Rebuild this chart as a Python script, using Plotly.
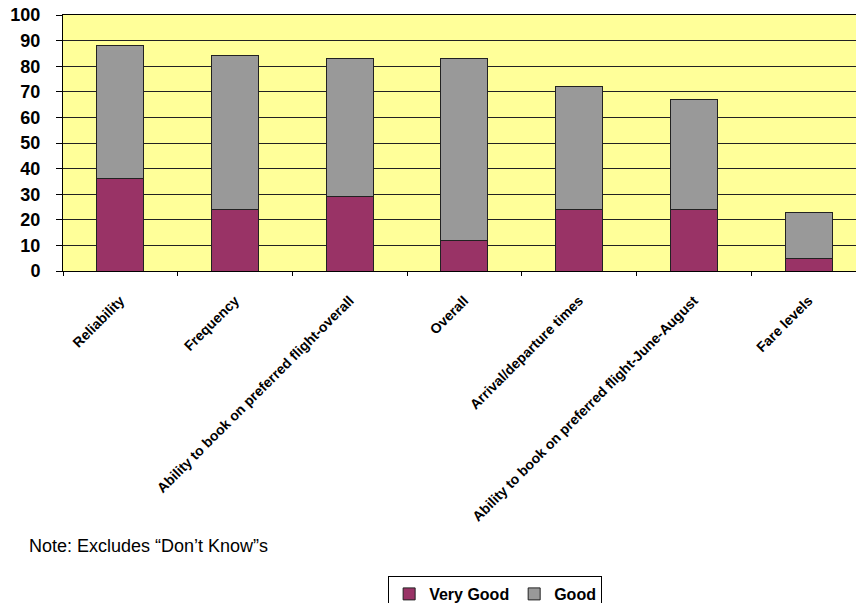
import plotly.graph_objects as go

categories = ["Reliability", "Frequency", "Ability to book on preferred flight-overall",
              "Overall", "Arrival/departure times",
              "Ability to book on preferred flight-June-August", "Fare levels"]
very_good = [36, 24, 29, 12, 24, 24, 5]
good = [52, 60, 54, 71, 48, 43, 18]
y_ticks = [0, 10, 20, 30, 40, 50, 60, 70, 80, 90, 100]

fig = go.Figure()
fig.add_trace(go.Bar(x=categories, y=very_good, name="Very Good",
                     marker=dict(color="#993366", line=dict(color="#222222", width=1)),
                     width=0.41))
fig.add_trace(go.Bar(x=categories, y=good, name="Good",
                     marker=dict(color="#999999", line=dict(color="#222222", width=1)),
                     width=0.41))

fig.update_layout(
    barmode="stack",
    width=856, height=603,
    margin=dict(l=63, r=0, t=15, b=332, autoexpand=False),
    paper_bgcolor="white",
    plot_bgcolor="#FFFF99",
    font=dict(family="Liberation Sans", color="black"),
    showlegend=True,
    legend=dict(orientation="h", x=0.41, y=(271 - 576) / 256, xanchor="left", yanchor="top",
                bordercolor="black", borderwidth=1, bgcolor="white",
                font=dict(size=16, weight="bold"), traceorder="normal",
                itemwidth=30),
    xaxis=dict(range=[-0.5, 6.414], tickangle=-45, showline=True, linecolor="black",
               mirror=True,
               ticks="outside", ticklen=4, tickcolor="black", tickson="boundaries",
               tickfont=dict(size=14, weight="bold"), ticklabelstandoff=15,
               showgrid=False, automargin=False),
    yaxis=dict(range=[0, 100], tickvals=y_ticks, showline=True, linecolor="black",
               ticks="outside", ticklen=6, tickcolor="black",
               gridcolor="#222222", gridwidth=1, ticklabelstandoff=12,
               tickfont=dict(size=18, weight="bold"), zeroline=False, automargin=False),
    annotations=[dict(text="Note: Excludes \u201cDon\u2019t Know\u201ds", xref="paper", yref="paper",
                      x=(27 - 63) / 793, y=(271 - 546) / 256, xanchor="left", yanchor="middle",
                      showarrow=False, font=dict(size=18))],
)

fig.write_html("out.html", config={"displayModeBar": False},
               post_script="document.body.style.margin='0';")
